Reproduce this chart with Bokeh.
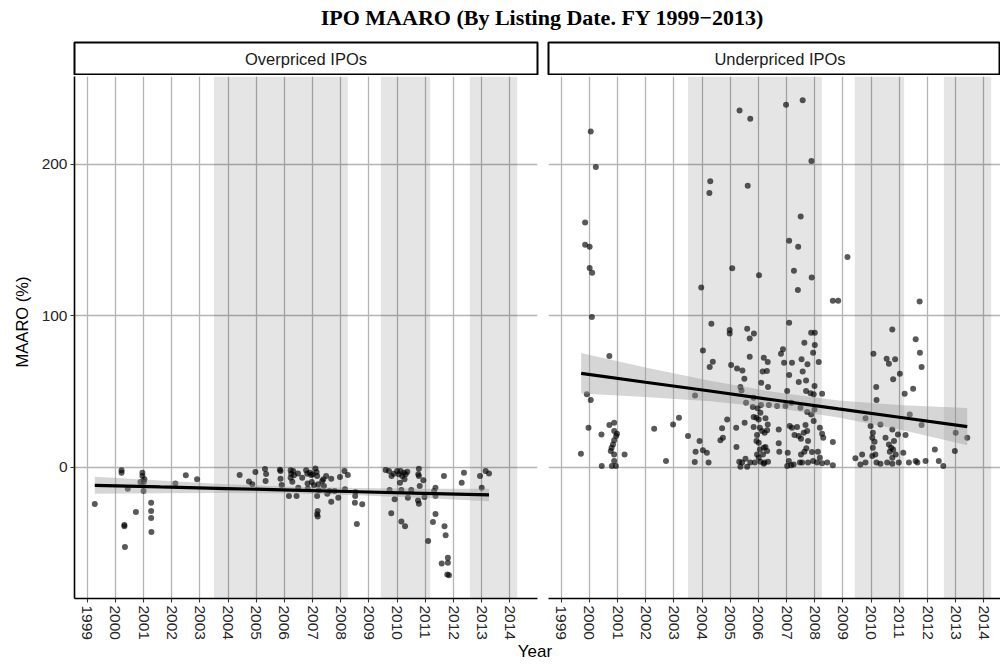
import numpy as np
from bokeh.plotting import figure
from bokeh.models import FixedTicker, Range1d, Div
from bokeh.layouts import column, row
from bokeh.embed import file_html
from bokeh.resources import INLINE
from bokeh.core.properties import value

# ---------------- data ----------------
panel_labels = ["Overpriced IPOs", "Underpriced IPOs"]
title_text = "IPO MAARO (By Listing Date. FY 1999\u22122013)"
y_title = "MAARO (%)"
x_title = "Year"
year_ticks = list(range(1999, 2015))
maaro_ticks = [0, 100, 200]

# shaded periods
shade_start = [2003.50, 2009.42, 2012.58]
shade_end = [2008.25, 2011.17, 2014.26]

over_year = [
    1999.27, 2000.22, 2000.22, 2000.32, 2000.32, 2000.34, 2000.44, 2000.73, 2000.96, 2000.96,
    2000.89, 2001.01, 2001.00, 2001.03, 2001.27, 2001.27, 2001.27, 2001.28, 2002.13, 2002.50,
    2002.90, 2004.41, 2004.74, 2004.86, 2004.97, 2005.31, 2005.35, 2005.33, 2005.84, 2005.86,
    2005.86, 2005.90, 2006.16, 2006.22, 2006.24, 2006.22, 2006.28, 2006.31, 2006.34, 2006.43,
    2006.48, 2006.49, 2006.63, 2006.77, 2006.81, 2006.82, 2006.83, 2006.90, 2006.95, 2006.97,
    2007.01, 2007.05, 2007.10, 2007.14, 2007.16, 2007.16, 2007.18, 2007.16, 2007.18, 2007.22,
    2007.20, 2007.34, 2007.38, 2007.40, 2007.48, 2007.52, 2007.60, 2007.66, 2007.66, 2007.78,
    2007.91, 2007.97, 2008.13, 2008.15, 2008.25, 2008.52, 2008.51, 2008.50, 2008.57, 2008.76,
    2009.59, 2009.71, 2009.80, 2009.88, 2009.73, 2009.79, 2009.91, 2010.00, 2010.06, 2010.12,
    2010.10, 2010.15, 2010.18, 2010.24, 2010.26, 2010.30, 2010.36, 2010.38, 2010.15, 2010.28,
    2010.50, 2010.77, 2010.77, 2010.80, 2010.75, 2010.74, 2010.77, 2010.93, 2010.97, 2011.10,
    2011.27, 2011.31, 2011.36, 2011.36, 2011.36, 2011.66, 2011.68, 2011.72, 2011.58, 2011.80,
    2011.80, 2011.78, 2011.84, 2012.29, 2012.37, 2012.94, 2013.00, 2013.14, 2013.26,
]
over_maaro = [
    -24.2, -2.0, -3.5, -38.0, -38.9, -52.5, -14.1, -29.5, -3.5, -5.7,
    -9.7, -9.7, -15.6, -7.9, -23.3, -28.8, -33.4, -42.7, -10.6, -5.3,
    -7.9, -5.1, -9.3, -11.2, -3.1, -1.1, -4.4, -9.0, -1.6, -2.4,
    -7.5, -11.7, -18.9, -2.0, -4.2, -6.8, -9.5, -2.4, -5.3, -18.9,
    -4.0, -13.4, -6.8, -2.0, -4.2, -10.6, -14.1, -3.5, -5.1, -9.7,
    -4.6, -11.9, -0.7, -3.1, -5.7, -18.9, -28.8, -31.0, -32.5, -15.2,
    -11.2, -9.0, -7.9, -12.3, -5.7, -17.4, -15.6, -7.5, -22.7, -15.6,
    -20.0, -6.4, -2.4, -14.5, -5.1, -16.3, -18.9, -23.3, -37.4, -24.4,
    -1.8, -2.4, -5.7, -4.2, -15.0, -30.3, -21.1, -2.4, -4.6, -2.4,
    -10.1, -15.0, -5.7, -3.5, -7.9, -4.6, -2.9, -20.0, -35.8, -38.9,
    -15.0, -0.9, -5.7, -12.3, -4.6, -21.8, -24.0, -8.6, -19.6, -48.6,
    -36.1, -15.6, -13.4, -30.8, -18.9, -5.7, -38.9, -44.8, -63.5, -59.6,
    -62.9, -70.6, -71.2, -10.1, -3.5, -5.7, -13.4, -2.4, -4.0,
]

under_year = [
    2000.05, 2000.23, 1999.85, 1999.85, 2000.01, 2000.01, 2000.10, 2005.33, 2005.71, 2006.98,
    2007.57, 2007.88, 2004.29, 2004.26, 2005.62, 2007.50, 2007.09, 2007.41, 2009.16, 2005.07,
    2006.02, 2007.26, 2007.89, 2003.97, 2007.40, 2008.64, 2008.83, 2011.72, 2000.09, 2004.33,
    2004.98, 2004.98, 2005.60, 2005.84, 2005.69, 2007.09, 2007.87, 2008.00, 2007.63, 2008.00,
    2007.94, 2010.75, 2011.58, 2011.73, 2011.79, 2000.71, 2004.03, 2004.38, 2004.27, 2005.03,
    2005.24, 2005.43, 2005.50, 2005.69, 2006.19, 2006.33, 2006.15, 2006.30, 2006.10, 2006.34,
    2006.87, 2006.80, 2006.91, 2007.19, 2007.09, 2007.53, 2007.74, 2007.57, 2007.43, 2007.69,
    2007.99, 2008.14, 2010.08, 2010.55, 2010.63, 2010.85, 2011.02, 2010.78, 2010.18, 2010.19,
    2011.19, 2011.49, 2011.37, 2011.79, 1999.91, 2000.05, 1999.97, 2000.43, 1999.70, 2000.71,
    2000.88, 2000.88, 2000.98, 2000.95, 2000.88, 2000.84, 2000.79, 2000.76, 2000.88, 2001.25,
    2000.88, 2000.94, 2000.44, 2000.80, 2002.30, 2002.72, 2002.97, 2003.18, 2003.75, 2003.50,
    2003.77, 2003.91, 2004.03, 2004.17, 2003.74, 2004.23, 2004.71, 2004.74, 2004.65, 2004.89,
    2005.21, 2005.22, 2005.32, 2005.36, 2005.54, 2005.60, 2005.51, 2005.36, 2005.40, 2005.56,
    2005.80, 2005.83, 2005.97, 2006.09, 2005.83, 2005.93, 2006.01, 2006.07, 2006.05, 2006.13,
    2006.22, 2006.31, 2006.25, 2006.33, 2005.83, 2005.95, 2006.01, 2005.93, 2006.05, 2005.95,
    2006.25, 2006.31, 2006.16, 2006.21, 2006.07, 2005.87, 2005.71, 2005.42, 2006.37, 2006.66,
    2006.72, 2006.72, 2006.74, 2007.04, 2007.08, 2007.02, 2007.16, 2007.25, 2007.11, 2007.19,
    2007.37, 2007.28, 2007.43, 2007.51, 2007.61, 2007.67, 2007.73, 2007.76, 2007.70, 2007.63,
    2007.51, 2007.47, 2007.55, 2007.76, 2007.90, 2007.96, 2007.87, 2007.99, 2007.96, 2007.69,
    2007.85, 2007.02, 2006.96, 2007.17, 2007.49, 2007.73, 2008.26, 2008.18, 2008.26, 2008.30,
    2008.11, 2008.18, 2007.94, 2008.08, 2008.26, 2008.44, 2008.64, 2008.64, 2009.80, 2009.98,
    2010.06, 2010.04, 2010.12, 2010.06, 2010.15, 2010.33, 2010.51, 2010.63, 2010.75, 2010.81,
    2010.95, 2010.71, 2010.66, 2010.78, 2010.75, 2010.87, 2010.98, 2011.14, 2011.22, 2011.34,
    2011.58, 2011.64, 2011.93, 2012.26, 2012.40, 2012.56, 2009.44, 2009.68, 2009.62, 2009.80,
    2010.04, 2010.19, 2010.33, 2010.57, 2010.75, 2013.00, 2013.41, 2012.97, 2006.34, 2006.19,
    2006.01, 2006.19,
]
under_maaro = [
    221.5, 198.0, 161.5, 146.8, 145.5, 131.4, 128.3, 235.3, 229.8, 239.1,
    242.1, 201.9, 188.7, 180.8, 185.7, 165.4, 149.4, 145.4, 138.6, 131.2,
    126.6, 129.6, 125.2, 118.6, 116.9, 109.8, 109.8, 109.4, 99.1, 94.7,
    90.5, 88.3, 91.4, 88.3, 85.0, 95.3, 88.7, 88.7, 82.2, 80.6,
    75.6, 90.9, 84.4, 75.6, 66.1, 73.4, 77.1, 69.6, 66.1, 67.4,
    65.2, 63.9, 58.4, 72.9, 72.3, 69.4, 63.1, 63.5, 55.8, 52.9,
    77.8, 74.9, 69.0, 69.0, 60.8, 71.2, 67.9, 63.1, 56.2, 57.3,
    53.6, 69.4, 74.9, 71.6, 68.3, 71.2, 61.7, 58.0, 52.9, 44.4,
    48.5, 51.8, 34.9, 27.9, 48.1, 44.4, 26.1, 21.7, 9.0, 27.9,
    29.4, 23.9, 22.2, 20.6, 17.8, 15.1, 12.9, 10.7, 8.5, 8.5,
    4.1, 0.9, 0.9, 0.9, 25.5, 4.1, 28.3, 32.7, 47.4, 20.6,
    10.3, 17.4, 11.2, 9.6, 3.5, 3.1, 25.7, 19.5, 17.8, 31.6,
    26.1, 13.4, 3.7, 0.4, 5.7, 0.4, 29.4, 52.9, 50.7, 42.6,
    39.7, 45.9, 38.9, 41.1, 33.2, 32.7, 31.6, 36.0, 26.1, 23.9,
    22.8, 24.4, 32.3, 28.3, 26.6, 21.3, 16.2, 17.4, 11.8, 8.5,
    13.4, 10.7, 8.5, 3.1, 3.7, 3.1, 3.1, 3.1, 41.1, 40.4,
    25.0, 15.8, 10.3, 9.6, 4.1, 0.9, 1.3, 1.9, 27.2, 26.1,
    26.6, 21.3, 20.6, 18.9, 22.8, 27.9, 23.9, 17.3, 12.5, 10.3,
    8.5, 3.1, 3.1, 3.1, 10.1, 30.5, 34.9, 38.2, 48.1, 50.3,
    48.8, 50.3, 40.4, 42.6, 39.3, 36.5, 48.5, 26.1, 22.2, 19.5,
    10.3, 6.3, 4.1, 3.1, 2.6, 3.1, 1.3, 16.7, 32.3, 27.2,
    22.8, 19.5, 16.9, 12.9, 8.5, 28.3, 19.5, 15.1, 25.0, 17.3,
    21.7, 12.9, 10.3, 11.8, 6.3, 8.5, 3.1, 9.6, 21.3, 3.1,
    4.1, 3.1, 4.1, 11.8, 4.1, 0.9, 5.9, 8.5, 1.9, 3.1,
    7.4, 3.1, 2.4, 3.1, 2.4, 22.8, 19.5, 10.7, 3.7, 2.4,
    6.3, 12.9,
]

# linear fits with confidence bands
over_fit_x = [1999.27, 2001.60, 2003.94, 2006.27, 2008.60, 2010.93, 2013.26]
over_fit_y = [-11.9, -12.95, -14.0, -15.05, -16.1, -17.15, -18.2]
over_fit_lo = [-17.5, -17.15, -16.9, -17.25, -18.5, -20.25, -22.3]
over_fit_hi = [-6.3, -8.75, -11.1, -12.85, -13.7, -14.05, -14.1]

under_fit_x = [1999.71, 2001.99, 2004.28, 2006.56, 2008.84, 2011.13, 2013.41]
under_fit_y = [62.0, 56.1, 50.3, 44.4, 38.5, 32.7, 26.8]
under_fit_lo = [48.6, 46.3, 43.5, 39.2, 32.9, 24.4, 14.5]
under_fit_hi = [75.4, 65.9, 57.1, 49.6, 44.1, 41.0, 39.1]

assert len(over_year) == len(over_maaro)
assert len(under_year) == len(under_maaro)

# ---------------- styling ----------------
Y_MIN, Y_MAX = -86.5, 257.7
X_MIN = 1998.55
X_MAX_LEFT = 2014.98     # full panel extent
X_MAX_RIGHT = 2014.59    # right panel is cut by the picture edge
SANS = "Liberation Sans"
GRID = "#B4B4B4"
TICK_FONT = "15.5px"

MAIN_H = 567
STRIP_H = 34
YLAB_W = 36
LEFT_BORDER = 38


def main_panel(years, vals, fx, fy, flo, fhi, width, b_left, b_right, x_max, with_y):
    p = figure(width=width, height=MAIN_H, output_backend="svg", toolbar_location=None,
               x_range=Range1d(X_MIN, x_max), y_range=Range1d(Y_MIN, Y_MAX),
               min_border_left=b_left, min_border_right=b_right,
               min_border_top=1, min_border_bottom=44,
               y_axis_location="left" if with_y else None)
    p.outline_line_color = None
    p.background_fill_color = "white"
    p.border_fill_color = "white"

    p.xgrid.ticker = FixedTicker(ticks=year_ticks)
    p.ygrid.ticker = FixedTicker(ticks=maaro_ticks)
    for g in (p.xgrid[0], p.ygrid[0]):
        g.grid_line_color = GRID
        g.grid_line_width = 1.3

    # shaded periods
    p.quad(left=shade_start, right=shade_end,
           bottom=[Y_MIN] * len(shade_start), top=[Y_MAX] * len(shade_start),
           fill_color="black", fill_alpha=0.1, line_color=None)

    p.scatter(years, vals, size=6, fill_color="black", fill_alpha=0.65,
              line_color=None)

    p.varea(x=fx, y1=flo, y2=fhi, fill_color="#999999", fill_alpha=0.4)
    p.line(fx, fy, line_color="black", line_width=3.2)

    ax = p.xaxis[0]
    ax.ticker = FixedTicker(ticks=year_ticks)
    ax.major_label_orientation = -np.pi / 2
    ax.major_label_text_font = SANS
    ax.major_label_text_font_size = TICK_FONT
    ax.major_label_text_color = "#262626"
    ax.axis_line_color = "black"
    ax.axis_line_width = 1.6
    ax.major_tick_line_color = "#333333"
    ax.major_tick_line_width = 1.1
    ax.major_tick_out = 4
    ax.major_tick_in = 0
    ax.minor_tick_line_color = None
    ax.major_label_standoff = 3

    if with_y:
        ay = p.yaxis[0]
        ay.ticker = FixedTicker(ticks=maaro_ticks)
        ay.major_label_text_font = SANS
        ay.major_label_text_font_size = TICK_FONT
        ay.major_label_text_color = "#262626"
        ay.axis_line_color = "black"
        ay.axis_line_width = 1.6
        ay.major_tick_line_color = "#333333"
        ay.major_tick_line_width = 1.1
        ay.major_tick_out = 4
        ay.major_tick_in = 0
        ay.minor_tick_line_color = None
        ay.major_label_standoff = 3
    return p


def strip_panel(label, width, b_left, b_right, x_max):
    s = figure(width=width, height=STRIP_H, output_backend="svg", toolbar_location=None,
               x_range=Range1d(X_MIN, x_max), y_range=Range1d(0, 1),
               min_border_left=b_left, min_border_right=b_right,
               min_border_top=1, min_border_bottom=1,
               x_axis_location=None, y_axis_location=None)
    s.xgrid.visible = False
    s.ygrid.visible = False
    s.background_fill_color = "white"
    s.border_fill_color = "white"
    s.outline_line_color = "black"
    s.outline_line_width = 2
    # label centred on the full panel extent
    s.text(x=[(X_MIN + X_MAX_LEFT) / 2], y=[0.5], text=[label], text_align="center",
           text_baseline="middle", text_font=value(SANS), text_font_size="16.5px",
           text_color="#1A1A1A")
    return s


left_main = main_panel(over_year, over_maaro, over_fit_x, over_fit_y, over_fit_lo, over_fit_hi,
                       540 - YLAB_W, LEFT_BORDER, 3, X_MAX_LEFT, True)
right_main = main_panel(under_year, under_maaro, under_fit_x, under_fit_y, under_fit_lo,
                        under_fit_hi, 460, 8, 0, X_MAX_RIGHT, False)
left_strip = strip_panel(panel_labels[0], 540 - YLAB_W, LEFT_BORDER, 3, X_MAX_LEFT)
right_strip = strip_panel(panel_labels[1], 460, 8, 0, X_MAX_RIGHT)

# y-axis title, centred on the panel + strip height as in the faceted layout
ylabel = Div(text=('<div style="position:relative;width:%dpx;height:%dpx;">'
                   '<div style="position:absolute;left:22px;top:281px;'
                   'transform:translate(-50%%,-50%%) rotate(-90deg);white-space:nowrap;'
                   'font-family:\'Liberation Sans\';font-size:16.5px;line-height:18px;'
                   'color:black;">%s</div></div>') % (YLAB_W, STRIP_H + MAIN_H, y_title),
             width=YLAB_W, height=STRIP_H + MAIN_H, margin=(0, 0, 0, 0))

title = Div(text=('<div style="width:1000px;box-sizing:border-box;padding-left:84px;'
                  'text-align:center;font-family:\'Liberation Serif\';font-weight:bold;'
                  'font-size:22px;line-height:22px;padding-top:7px;color:black;">'
                  + title_text + '</div>'),
            width=1000, height=41, margin=(0, 0, 0, 0))
xlabel = Div(text=('<div style="width:1000px;box-sizing:border-box;padding-left:70px;'
                   'text-align:center;font-family:\'Liberation Sans\';font-size:17px;'
                   'line-height:18px;padding-top:1px;color:black;">' + x_title + '</div>'),
             width=1000, height=26, margin=(0, 0, 0, 0))

layout = column(
    title,
    row(ylabel,
        column(left_strip, left_main, spacing=0),
        column(right_strip, right_main, spacing=0),
        spacing=0),
    xlabel,
    spacing=0,
)

open("out.html", "w").write(file_html(layout, INLINE))
